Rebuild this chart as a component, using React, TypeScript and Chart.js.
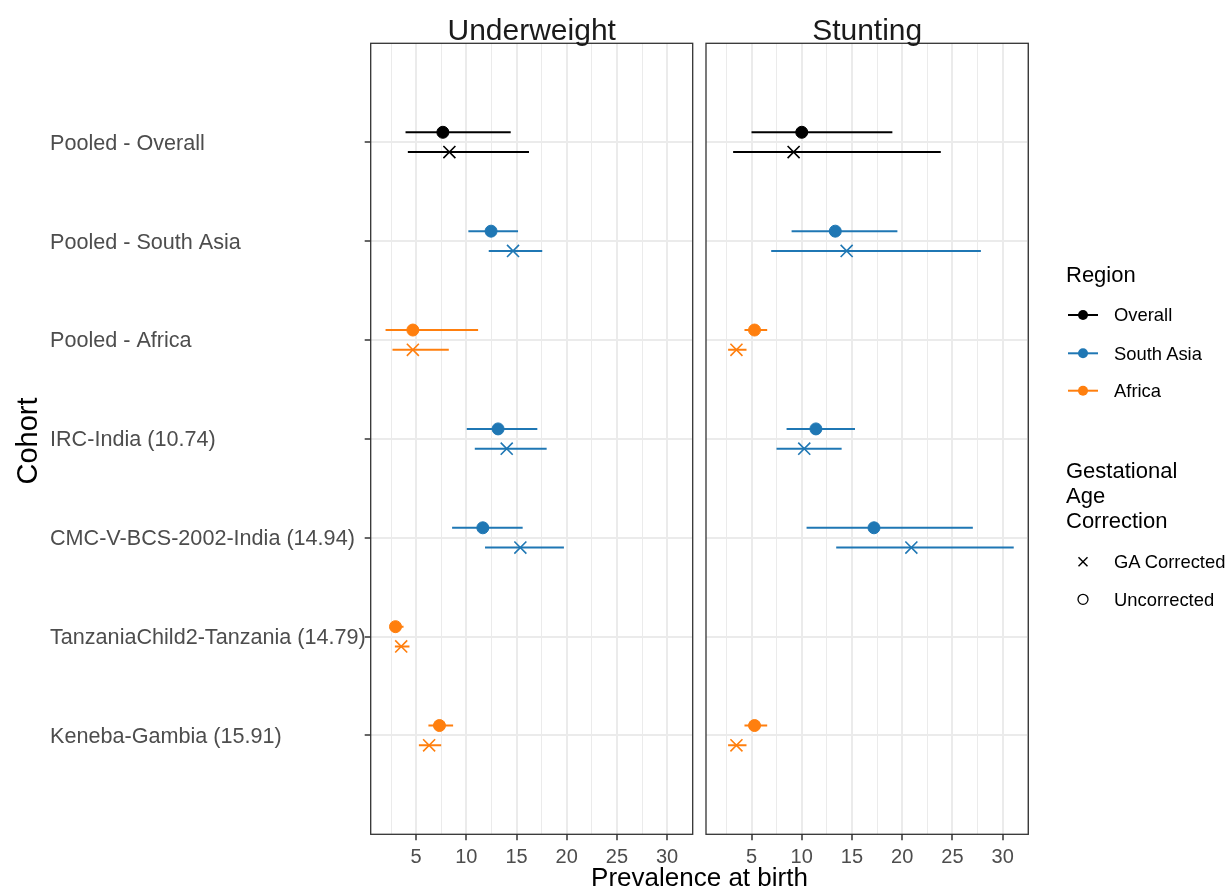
import React, { useEffect, useRef } from 'react';
import { Chart, registerables } from 'chart.js';

Chart.register(...registerables);

// ---------- data ----------
const cohorts = [
  'Pooled - Overall',
  'Pooled - South Asia',
  'Pooled - Africa',
  'IRC-India (10.74)',
  'CMC-V-BCS-2002-India (14.94)',
  'TanzaniaChild2-Tanzania (14.79)',
  'Keneba-Gambia (15.91)',
];
const cohortRegion = ['Overall', 'South Asia', 'Africa', 'South Asia', 'South Asia', 'Africa', 'Africa'];
const regionNames = ['Overall', 'South Asia', 'Africa'];
const regionColors = ['#000000', '#1f77b4', '#ff7f0e'];
const correctionNames = ['GA Corrected', 'Uncorrected'];
const panelTitles = ['Underweight', 'Stunting'];

// Underweight
const uwUncorrected = [7.66, 12.46, 4.67, 13.16, 11.64, 2.94, 7.32];
const uwUncorrectedLower = [3.94, 10.2, 1.95, 10.04, 8.58, 2.45, 6.22];
const uwUncorrectedUpper = [14.42, 15.15, 11.17, 17.07, 15.61, 3.74, 8.68];
const uwCorrected = [8.31, 14.65, 4.67, 14.02, 15.38, 3.51, 6.29];
const uwCorrectedLower = [4.17, 12.23, 2.64, 10.84, 11.86, 2.88, 5.27];
const uwCorrectedUpper = [16.24, 17.56, 8.25, 18.0, 19.72, 4.33, 7.49];

// Stunting
const stUncorrected = [10.0, 13.34, 5.3, 11.41, 17.19, null, 5.3];
const stUncorrectedLower = [5.0, 8.99, 4.3, 8.49, 10.48, null, 4.3];
const stUncorrectedUpper = [19.02, 19.52, 6.56, 15.3, 27.03, null, 6.56];
const stCorrected = [9.19, 14.47, 3.5, 10.25, 20.91, null, 3.5];
const stCorrectedLower = [3.17, 6.96, 2.67, 7.49, 13.43, null, 2.67];
const stCorrectedUpper = [23.84, 27.83, 4.5, 13.97, 31.1, null, 4.5];

const xMajorTicks = [5, 10, 15, 20, 25, 30];
const xMinorTicks = [2.5, 7.5, 12.5, 17.5, 22.5, 27.5, 32.5];
const X_MIN = 0.47;
const X_MAX = 32.55;

const FONT = '"Liberation Sans", Arial, Helvetica, sans-serif';

const colorOf = (i: number) => regionColors[regionNames.indexOf(cohortRegion[i])];

function buildDatasets(
  unc: (number | null)[], uncLo: (number | null)[], uncHi: (number | null)[],
  cor: (number | null)[], corLo: (number | null)[], corHi: (number | null)[]
) {
  const ds: any[] = [];
  const groups = [
    { est: unc, lo: uncLo, hi: uncHi, off: -0.1, style: 'circle' },
    { est: cor, lo: corLo, hi: corHi, off: 0.1, style: 'crossRot' },
  ];
  groups.forEach((g) => {
    const pts: any[] = [];
    const cols: string[] = [];
    g.est.forEach((v, i) => {
      if (v == null) return;
      const y = i + 1 + g.off;
      ds.push({
        showLine: true,
        data: [{ x: g.lo[i], y }, { x: g.hi[i], y }],
        borderColor: colorOf(i),
        borderWidth: 2,
        pointRadius: 0,
        order: 2,
      });
      pts.push({ x: v, y });
      cols.push(colorOf(i));
    });
    ds.push({
      data: pts,
      pointStyle: g.style,
      pointRadius: g.style === 'circle' ? 6 : 8.5,
      backgroundColor: cols,
      borderColor: cols,
      borderWidth: g.style === 'circle' ? 1 : 1.6,
      order: 1,
    });
  });
  return ds;
}

const panelBorder = {
  id: 'panelBorder',
  afterDatasetsDraw(chart: any) {
    const { ctx, chartArea } = chart;
    const { left, top, right, bottom } = chartArea;
    ctx.save();
    ctx.strokeStyle = '#333333';
    ctx.lineWidth = 1.3;
    ctx.strokeRect(left, top, right - left, bottom - top);
    ctx.restore();
  },
};

function makeConfig(datasets: any[], showY: boolean, padLeft: number, padRight: number, yWidth: number): any {
  return {
    type: 'scatter',
    data: { datasets },
    plugins: [panelBorder],
    options: {
      responsive: false,
      animation: false,
      events: [],
      layout: { padding: { left: padLeft, right: padRight, top: 43.3, bottom: 0 } },
      plugins: { legend: { display: false }, tooltip: { enabled: false } },
      scales: {
        x: {
          type: 'linear',
          min: X_MIN,
          max: X_MAX,
          border: { display: false },
          afterBuildTicks: (s: any) => {
            s.ticks = [...xMinorTicks, ...xMajorTicks].sort((a, b) => a - b).map((v) => ({ value: v }));
          },
          afterFit: (s: any) => { s.height = 888 - 834.3; },
          grid: {
            color: '#ebebeb',
            lineWidth: (c: any) => (c.tick && xMajorTicks.includes(c.tick.value) ? 2 : 1),
            tickColor: (c: any) => (c.tick && xMajorTicks.includes(c.tick.value) ? '#333333' : 'rgba(0,0,0,0)'),
            tickLength: 6,
            tickWidth: 1.5,
          },
          ticks: {
            autoSkip: false,
            maxRotation: 0,
            padding: 5,
            color: '#4d4d4d',
            font: { family: FONT, size: 20 },
            callback: (v: any) => (xMajorTicks.includes(Number(v)) ? String(v) : ''),
          },
        },
        y: {
          type: 'linear',
          reverse: true,
          min: 0,
          max: 8,
          border: { display: false },
          afterBuildTicks: (s: any) => {
            s.ticks = cohorts.map((_, i) => ({ value: i + 1 }));
          },
          afterFit: (s: any) => { s.width = yWidth; },
          grid: {
            color: '#ebebeb',
            lineWidth: 2,
            drawTicks: showY,
            tickColor: '#333333',
            tickLength: 6,
            tickWidth: 1.5,
          },
          ticks: {
            display: showY,
            autoSkip: false,
            crossAlign: 'far',
            padding: 8,
            labelOffset: 1.5,
            color: '#4d4d4d',
            font: { family: FONT, size: 21.6 },
            callback: (v: any) => cohorts[Number(v) - 1] ?? '',
          },
        },
      },
    },
  };
}

export default function App() {
  const leftRef = useRef<HTMLCanvasElement>(null);
  const rightRef = useRef<HTMLCanvasElement>(null);

  useEffect(() => {
    const c1 = new Chart(
      leftRef.current!,
      makeConfig(
        buildDatasets(uwUncorrected, uwUncorrectedLower, uwUncorrectedUpper, uwCorrected, uwCorrectedLower, uwCorrectedUpper),
        true, 50, 1228 - 692.7, 370.7 - 50
      )
    );
    const c2 = new Chart(
      rightRef.current!,
      makeConfig(
        buildDatasets(stUncorrected, stUncorrectedLower, stUncorrectedUpper, stCorrected, stCorrectedLower, stCorrectedUpper),
        false, 706, 1228 - 1028.3, 0
      )
    );
    return () => { c1.destroy(); c2.destroy(); };
  }, []);

  const canvasStyle: React.CSSProperties = { position: 'absolute', left: 0, top: 0, width: 1228, height: 888 };
  const legendY = [315, 353.3, 390.7];

  return (
    <div style={{ position: 'fixed', left: 0, top: 0, width: 1228, height: 888, background: '#ffffff', overflow: 'hidden' }}>
      <canvas ref={leftRef} width={1228} height={888} style={canvasStyle} />
      <canvas ref={rightRef} width={1228} height={888} style={canvasStyle} />
      <svg width={1228} height={888} style={{ position: 'absolute', left: 0, top: 0, pointerEvents: 'none' }} fontFamily={FONT}>
        <text x={531.7} y={40} textAnchor="middle" fontSize={30} fill="#1a1a1a">{panelTitles[0]}</text>
        <text x={867.2} y={40} textAnchor="middle" fontSize={30} fill="#1a1a1a">{panelTitles[1]}</text>
        <text x={699.5} y={886} textAnchor="middle" fontSize={26} fill="#000000">Prevalence at birth</text>
        <text x={37} y={441} textAnchor="middle" fontSize={29} fill="#000000" transform="rotate(-90 37 441)">Cohort</text>

        <text x={1066} y={281.7} fontSize={22} fill="#000000">Region</text>
        {regionNames.map((r, i) => (
          <g key={r}>
            <line x1={1068} x2={1098} y1={legendY[i]} y2={legendY[i]} stroke={regionColors[i]} strokeWidth={2} />
            <circle cx={1083} cy={legendY[i]} r={5} fill={regionColors[i]} />
            <text x={1114} y={legendY[i] + 6.3} fontSize={18.4} fill="#000000">{r}</text>
          </g>
        ))}

        <text x={1066} y={477.5} fontSize={22} fill="#000000">Gestational</text>
        <text x={1066} y={502.5} fontSize={22} fill="#000000">Age</text>
        <text x={1066} y={527.5} fontSize={22} fill="#000000">Correction</text>

        <line x1={1078.5} y1={557.2} x2={1087.5} y2={566.2} stroke="#000" strokeWidth={1.5} />
        <line x1={1078.5} y1={566.2} x2={1087.5} y2={557.2} stroke="#000" strokeWidth={1.5} />
        <text x={1114} y={561.7 + 6.3} fontSize={18.4} fill="#000000">{correctionNames[0]}</text>
        <circle cx={1083} cy={599.3} r={5} fill="none" stroke="#000" strokeWidth={1.3} />
        <text x={1114} y={599.3 + 6.3} fontSize={18.4} fill="#000000">{correctionNames[1]}</text>
      </svg>
    </div>
  );
}
